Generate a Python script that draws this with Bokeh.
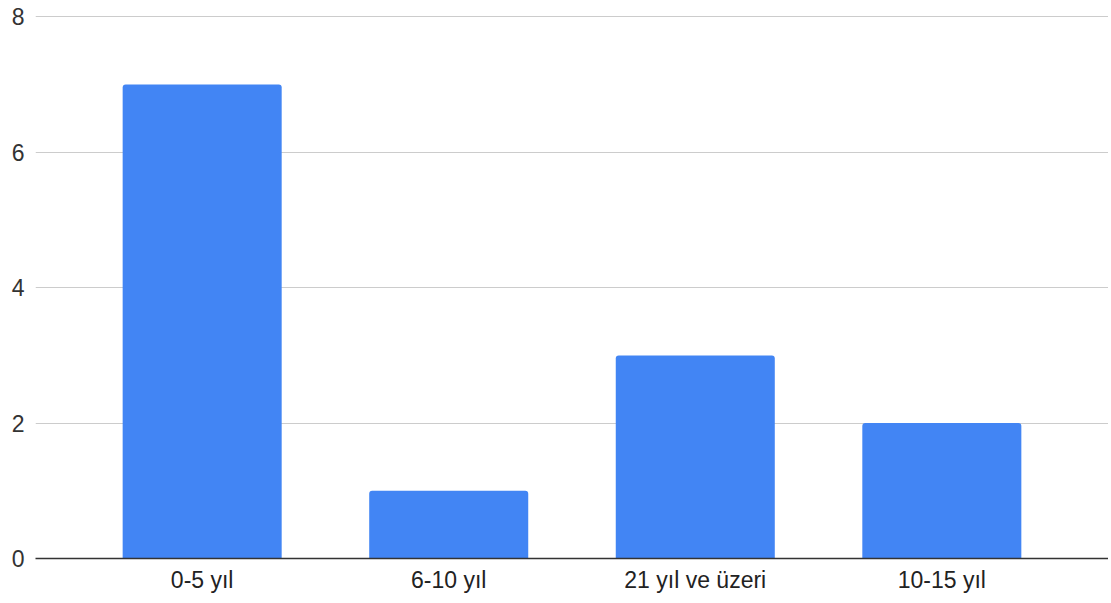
from bokeh.plotting import figure
from bokeh.models import FactorRange, Range1d, ColumnDataSource
from bokeh.embed import file_html
from bokeh.resources import INLINE

categories = ["0-5 yıl", "6-10 yıl", "21 yıl ve üzeri", "10-15 yıl"]
values = [7, 1, 3, 2]
y_ticks = [0, 2, 4, 6, 8]

src = ColumnDataSource(dict(cat=categories, val=values))

p = figure(
    width=1108, height=602,
    x_range=FactorRange(*categories, range_padding=0.176, range_padding_units="absolute"),
    y_range=Range1d(0, 8.02),
    output_backend="svg", toolbar_location=None,
    min_border_left=35, min_border_right=0, min_border_top=15, min_border_bottom=44,
)
p.outline_line_color = None
p.background_fill_color = "white"
p.border_fill_color = "white"

p.vbar(x="cat", top="val", width=0.645, source=src, color="#4285F4",
       line_color=None, border_radius=(3, 3, 0, 0))

p.xgrid.grid_line_color = None
p.ygrid.grid_line_color = "#cccccc"
p.ygrid.grid_line_width = 1

p.yaxis.ticker = y_ticks
p.yaxis.axis_line_color = None
p.yaxis.major_tick_line_color = None
p.yaxis.minor_tick_line_color = None
p.yaxis.major_label_standoff = 5
p.yaxis.major_label_text_font = "Liberation Sans"
p.yaxis.major_label_text_font_size = "23px"
p.yaxis.major_label_text_color = "#333333"

p.xaxis.axis_line_color = "#333333"
p.xaxis.axis_line_width = 1.5
p.xaxis.major_tick_line_color = None
p.xaxis.minor_tick_line_color = None
p.xaxis.major_label_standoff = 2
p.xaxis.major_label_text_font = "Liberation Sans"
p.xaxis.major_label_text_font_size = "23px"
p.xaxis.major_label_text_color = "#222222"

open("out.html", "w").write(file_html(p, INLINE))
